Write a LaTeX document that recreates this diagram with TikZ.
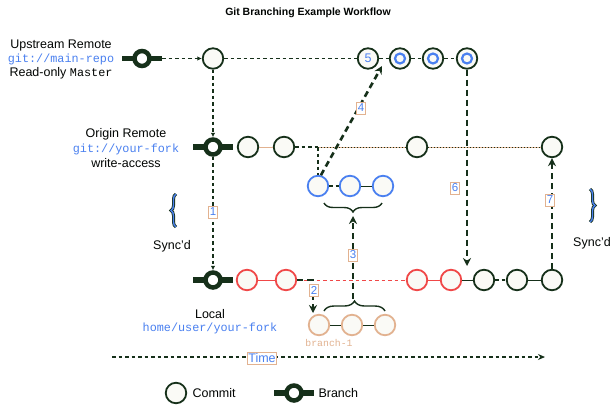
\documentclass[tikz,border=0pt]{standalone}
\usepackage{fontspec}
\setmainfont{Liberation Sans}
\setmonofont{Liberation Mono}
\usetikzlibrary{arrows.meta,decorations.pathreplacing}
\definecolor{dkg}{HTML}{16301A}
\definecolor{myblue}{HTML}{4A80F0}
\definecolor{myred}{HTML}{F04848}
\definecolor{mytan}{HTML}{E2B290}
\definecolor{cfill}{HTML}{FAFAF6}
\newcommand\mymono{\ttfamily\fontsize{11.8}{14}\selectfont}
\begin{document}
\begin{tikzpicture}[x=1pt,y=-1pt,
  every node/.style={font=\fontsize{12.5}{14}\selectfont, text=black!90!dkg},
  commit/.style={circle, draw=dkg, line width=1.8pt, fill=cfill, minimum size=20.5pt, inner sep=0pt},
  bcommit/.style={commit, draw=myblue},
  rcommit/.style={commit, draw=myred},
  tcommit/.style={commit, draw=mytan},
  branchsym/.style={circle, draw=dkg, line width=4.5pt, fill=white, minimum size=15pt, inner sep=0pt},
  bar/.style={dkg, line width=5.5pt},
  thindash/.style={dkg, line width=1.05pt, dash pattern=on 3.5pt off 3pt},
  thinarrow/.style={thindash, -{Latex[length=4.5pt,width=4.5pt]}},
  thickarrow/.style={dkg, line width=2.6pt, dash pattern=on 6pt off 4pt, -{Stealth[length=8pt,width=8pt]}},
  numlbl/.style={draw=mytan, line width=0.7pt, fill=white, text=myblue, font=\fontsize{11.5}{12}\selectfont, inner sep=1pt, minimum height=12pt},
  dotline/.style={dkg, line width=1pt, dash pattern=on 1pt off 2pt},
  tanline/.style={mytan, line width=0.9pt},
  bracedec/.style={decorate, decoration={brace, amplitude=#1}}
]
\fill[white] (0,0) rectangle (613,413);
\useasboundingbox (0,0) rectangle (613,413);

% title
\node[font=\bfseries\fontsize{10.5}{12}\selectfont] (title) at (308,13) {Git Branching Example Workflow};

% left labels
\node[align=center] (uplbl) at (61,59) {Upstream Remote\\{\mymono\color{myblue}git://main-repo}\\Read-only {\mymono Master}};
\node[align=center, font=\fontsize{12.5}{15}\selectfont] (orlbl) at (126,148) {Origin Remote\\{\mymono\color{myblue}git://your-fork}\\write-access};
\node[align=center, font=\fontsize{12.5}{13}\selectfont] (loclbl) at (210,321.5) {Local\\{\mymono\color{myblue}home/user/your-fork}};

% upstream row
\node[branchsym] (ub) at (142,58.5) {};
\draw[bar] ([xshift=-20pt]ub.center) -- ([xshift=-8pt]ub.center) ([xshift=8pt]ub.center) -- ([xshift=20pt]ub.center);
\node[commit] (uc) at (213,58.5) {};
\node[commit, text=myblue, font=\fontsize{12.5}{12}\selectfont] (u5) at (368,58.5) {5};
\node[commit] (u6) at (400,58.5) {};
\node[commit] (u7) at (433,58.5) {};
\node[commit] (u8) at (467,58.5) {};
\foreach \n in {u6,u7,u8} \draw[myblue, line width=2.2pt] (\n.center) circle (5pt);
\draw[thinarrow] ([xshift=20pt]ub.center) -- (uc);
\draw[thindash] (uc) -- (u5);
\draw[thindash] (u5) -- (u6) (u6) -- (u7) (u7) -- (u8);

% origin row
\node[branchsym] (ob) at (213,147) {};
\draw[bar] ([xshift=-20pt]ob.center) -- ([xshift=-8pt]ob.center) ([xshift=8pt]ob.center) -- ([xshift=20pt]ob.center);
\node[commit] (oc1) at (248,147) {};
\node[commit] (oc2) at (284,147) {};
\node[commit] (oc3) at (417,147) {};
\node[commit] (oc4) at (552,147) {};
\coordinate (oj) at (318,147);
\draw[tanline] (oc1) -- (oc2);
\draw[thindash] (oc2) -- (oj);
\draw[tanline] (oj) -- (oc3) (oc3) -- (oc4);
\draw[dotline] (oj) -- (oc3) (oc3) -- (oc4);
\draw[thinarrow] (uc) -- (ob);

% blue commits
\node[bcommit] (bc1) at (318,186) {};
\node[bcommit] (bc2) at (350,186) {};
\node[bcommit] (bc3) at (383,186) {};
\draw[thindash] (oj) -- (bc1);
\draw[thindash] (bc1) -- (bc2);
\draw[dkg, line width=0.9pt] (bc2) -- (bc3);
\coordinate (br1r) at (382,203);
\coordinate (br1l) at (324,203);
\coordinate (br1tip) at (353,216);
\draw[dkg, line width=1.4pt, bracedec=9pt] (br1r) -- (br1l);

% local row
\node[branchsym] (lb) at (213,280) {};
\draw[bar] ([xshift=-20pt]lb.center) -- ([xshift=-8pt]lb.center) ([xshift=8pt]lb.center) -- ([xshift=20pt]lb.center);
\node[rcommit] (lc1) at (247,280) {};
\node[rcommit] (lc2) at (286,280) {};
\node[rcommit] (lc3) at (417,280) {};
\node[rcommit] (lc4) at (451,280) {};
\node[commit] (lc5) at (484,280) {};
\node[commit] (lc6) at (517,280) {};
\node[commit] (lc7) at (552,280) {};
\draw[myred, line width=0.9pt] (lc1) -- (lc2) (lc3) -- (lc4);
\draw[myred, line width=0.9pt, dash pattern=on 3.5pt off 3pt] (lc2) -- (lc3);
\draw[dkg, line width=0.9pt] (lc4) -- (lc5) (lc6) -- (lc7);
\draw[thindash] (lc5) -- (lc6);
\draw[thinarrow] (ob) -- (lb);

% branch-1
\node[tcommit] (b1) at (319,325) {};
\node[tcommit] (b2) at (352,325) {};
\node[tcommit] (b3) at (385,325) {};
\draw[dkg, line width=0.9pt] (b1) -- (b2) (b2) -- (b3);
\node[text=mytan, font=\ttfamily\fontsize{9.8}{10}\selectfont] (b1lbl) at (329,343) {branch-1};
\coordinate (br2l) at (324,311);
\coordinate (br2r) at (385,311);
\coordinate (br2tip) at (353,299);
\draw[dkg, line width=1.4pt, bracedec=10pt] (br2l) -- (br2r);

% numbered arrows
\coordinate (a2c) at (313,280);
\coordinate (a2end) at (313,313);
\draw[thickarrow] (lc2.east) -- (a2c) -- (a2end);
\draw[thickarrow] (br2tip) -- (br1tip);
\coordinate (a4end) at (382,66);
\draw[thickarrow] (bc1.75) -- (a4end);
\coordinate (a6end) at (467,266);
\draw[thickarrow] (u8.south) -- (a6end);
\draw[thickarrow] (lc7.north) -- (oc4.south);

\node[numlbl] (n1) at (213,212) {1};
\node[numlbl] (n2) at (314,290) {2};
\node[numlbl] (n3) at (353,255) {3};
\node[numlbl] (n4) at (361,108) {4};
\node[numlbl] (n6) at (455,188) {6};
\node[numlbl] (n7) at (550,200) {7};

% sync braces
\coordinate (lsb) at (176,227);
\coordinate (lst) at (176,194);
\draw[dkg, line width=3pt, bracedec=5pt] (lsb) -- (lst);
\draw[myblue, line width=1.4pt, bracedec=5pt] (lsb) -- (lst);
\node (lsync) at (172,246) {Sync'd};
\coordinate (rst) at (590,189);
\coordinate (rsb) at (590,222);
\draw[dkg, line width=3pt, bracedec=5pt] (rst) -- (rsb);
\draw[myblue, line width=1.4pt, bracedec=5pt] (rst) -- (rsb);
\node (rsync) at (592,243) {Sync'd};

% time
\coordinate (t0) at (112,357);
\coordinate (t1) at (545,357);
\draw[thindash, -{Stealth[length=7pt,width=6pt]}] (t0) -- (t1);
\node[numlbl, font=\fontsize{12.5}{13}\selectfont] (tlbl) at (262,358) {Time};

% legend
\node[commit] (lgc) at (176,393) {};
\node[anchor=west] (lgct) at (189,393) {Commit};
\node[branchsym] (lgb) at (294,393) {};
\draw[bar] ([xshift=-20pt]lgb.center) -- ([xshift=-8pt]lgb.center) ([xshift=8pt]lgb.center) -- ([xshift=20pt]lgb.center);
\node[anchor=west] (lgbt) at (315,393) {Branch};
\end{tikzpicture}
\end{document}
